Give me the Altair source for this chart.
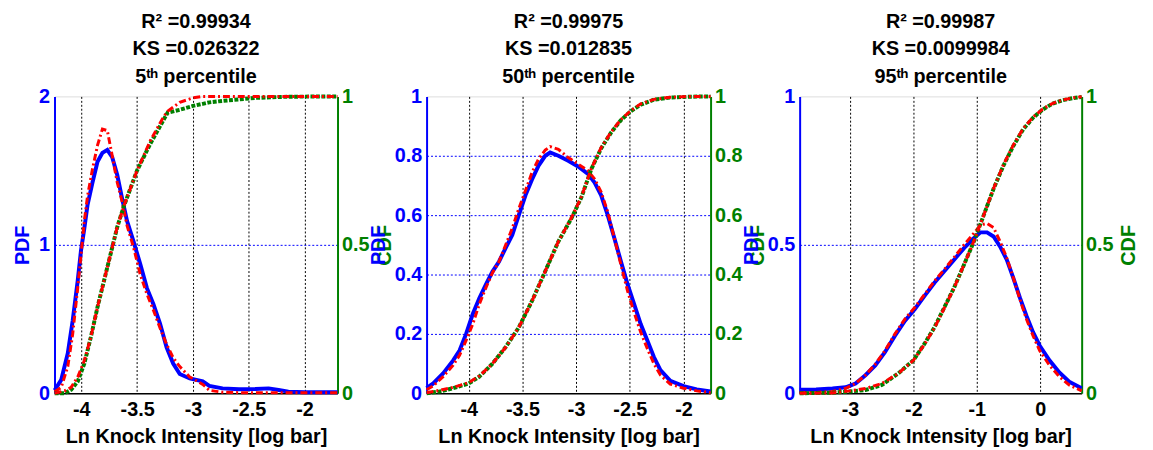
import altair as alt
import pandas as pd

FONT = "Liberation Sans"
BLUE = "#0000ff"
RED = "#ff0000"
GREEN = "#008000"

# ---------------- Panel 1: 5th percentile ----------------
p1_pdf_x = [-4.239, -4.180, -4.121, -4.077, -4.032, -4.003, -3.973, -3.944, -3.900, -3.855,
            -3.811, -3.767, -3.723, -3.678, -3.634, -3.590, -3.531, -3.472, -3.413, -3.354,
            -3.295, -3.236, -3.177, -3.118, -3.029, -2.912, -2.853, -2.735, -2.587, -2.440,
            -2.322, -2.233, -2.145, -1.997, -1.705]
p1_pdf_emp = [0.02, 0.09, 0.27, 0.49, 0.76, 0.96, 1.11, 1.27, 1.42, 1.56,
              1.62, 1.64, 1.59, 1.47, 1.31, 1.16, 1.02, 0.87, 0.71, 0.60,
              0.47, 0.31, 0.20, 0.13, 0.10, 0.08, 0.05, 0.033, 0.027, 0.029,
              0.033, 0.022, 0.011, 0.007, 0.007]
p1_pdf_fit = [0.01, 0.04, 0.18, 0.40, 0.71, 0.93, 1.16, 1.33, 1.51, 1.67,
              1.78, 1.77, 1.60, 1.42, 1.29, 1.13, 0.98, 0.80, 0.67, 0.56,
              0.44, 0.33, 0.24, 0.18, 0.11, 0.06, 0.02, 0.007, 0.004, 0.003,
              0.003, 0.003, 0.003, 0.003, 0.003]
p1_cdf_x = [-4.239, -4.150, -4.091, -4.032, -3.973, -3.914, -3.855, -3.796, -3.737, -3.678,
            -3.619, -3.560, -3.501, -3.442, -3.383, -3.324, -3.265, -3.227, -3.118, -3.000,
            -2.912, -2.853, -2.735, -2.587, -2.440, -2.145, -1.705]
p1_cdf_emp = [0.0, 0.0, 0.012, 0.04, 0.10, 0.19, 0.29, 0.38, 0.47, 0.56,
              0.63, 0.69, 0.75, 0.795, 0.84, 0.88, 0.92, 0.945, 0.955, 0.968,
              0.975, 0.98, 0.985, 0.99, 0.995, 0.999, 1.0]
p1_cdf_fit = [0.0, 0.008, 0.02, 0.055, 0.11, 0.19, 0.29, 0.38, 0.47, 0.56,
              0.63, 0.69, 0.75, 0.80, 0.85, 0.89, 0.93, 0.95, 0.98, 0.995,
              1.0, 1.0, 1.0, 1.0, 1.0, 1.0, 1.0]

# ---------------- Panel 2: 50th percentile ----------------
p2_pdf_x = [-4.393, -4.331, -4.239, -4.147, -4.086, -4.025, -3.963, -3.902, -3.840, -3.779,
            -3.718, -3.656, -3.595, -3.534, -3.472, -3.411, -3.350, -3.288, -3.242, -3.166,
            -3.074, -2.982, -2.890, -2.828, -2.767, -2.706, -2.644, -2.583, -2.521, -2.460,
            -2.399, -2.337, -2.276, -2.215, -2.123, -2.000, -1.877, -1.748]
p2_pdf_emp = [0.017, 0.033, 0.067, 0.11, 0.144, 0.20, 0.267, 0.32, 0.367, 0.41,
              0.444, 0.49, 0.533, 0.60, 0.667, 0.72, 0.767, 0.80, 0.811, 0.80,
              0.783, 0.764, 0.739, 0.71, 0.667, 0.60, 0.522, 0.444, 0.367, 0.30,
              0.233, 0.178, 0.122, 0.078, 0.042, 0.024, 0.013, 0.006]
p2_pdf_fit = [0.012, 0.025, 0.056, 0.094, 0.128, 0.178, 0.233, 0.30, 0.356, 0.406,
              0.444, 0.50, 0.556, 0.622, 0.683, 0.744, 0.789, 0.819, 0.831, 0.822,
              0.794, 0.772, 0.75, 0.722, 0.678, 0.611, 0.522, 0.433, 0.344, 0.272,
              0.206, 0.15, 0.10, 0.061, 0.031, 0.017, 0.008, 0.002]
p2_cdf_x = [-4.393, -4.270, -4.147, -4.000, -3.902, -3.779, -3.656, -3.534, -3.411, -3.288,
            -3.166, -3.043, -2.951, -2.859, -2.767, -2.675, -2.583, -2.491, -2.399, -2.276,
            -2.123, -1.939, -1.748]
p2_cdf_emp = [0.0, 0.006, 0.017, 0.033, 0.056, 0.10, 0.156, 0.222, 0.311, 0.411,
              0.511, 0.59, 0.66, 0.755, 0.825, 0.878, 0.92, 0.95, 0.972, 0.989,
              0.996, 0.999, 1.0]
p2_cdf_fit = [0.002, 0.01, 0.02, 0.036, 0.058, 0.10, 0.155, 0.222, 0.311, 0.411,
              0.511, 0.592, 0.662, 0.757, 0.828, 0.88, 0.922, 0.952, 0.975, 0.99,
              0.997, 1.0, 1.0]

# ---------------- Panel 3: 95th percentile ----------------
p3_pdf_x = [-3.793, -3.534, -3.275, -3.067, -2.912, -2.756, -2.601, -2.446, -2.290, -2.135,
            -1.979, -1.824, -1.668, -1.513, -1.358, -1.202, -1.047, -0.943, -0.839, -0.736,
            -0.632, -0.528, -0.425, -0.321, -0.218, -0.114, -0.010, 0.145, 0.301, 0.456,
            0.653]
p3_pdf_emp = [0.012, 0.013, 0.016, 0.02, 0.033, 0.061, 0.094, 0.139, 0.194, 0.244,
              0.283, 0.328, 0.372, 0.411, 0.45, 0.489, 0.522, 0.542, 0.542, 0.528,
              0.494, 0.45, 0.389, 0.322, 0.261, 0.206, 0.161, 0.111, 0.07, 0.039,
              0.017]
p3_pdf_fit = [0.002, 0.003, 0.006, 0.017, 0.033, 0.061, 0.098, 0.144, 0.20, 0.25,
              0.289, 0.333, 0.378, 0.417, 0.458, 0.50, 0.539, 0.567, 0.572, 0.558,
              0.511, 0.456, 0.389, 0.317, 0.25, 0.194, 0.144, 0.094, 0.056, 0.028,
              0.008]
p3_cdf_x = [-3.793, -3.275, -3.000, -2.756, -2.497, -2.238, -2.000, -1.824, -1.668, -1.513,
            -1.358, -1.202, -1.047, -0.891, -0.736, -0.580, -0.425, -0.269, -0.114, 0.041,
            0.197, 0.352, 0.508, 0.653]
p3_cdf_emp = [0.0, 0.002, 0.006, 0.011, 0.028, 0.067, 0.111, 0.167, 0.222, 0.289,
              0.356, 0.433, 0.511, 0.60, 0.689, 0.767, 0.833, 0.889, 0.928, 0.956,
              0.976, 0.987, 0.994, 0.998]
p3_cdf_fit = [0.0, 0.001, 0.008, 0.016, 0.033, 0.067, 0.111, 0.165, 0.22, 0.287,
              0.355, 0.433, 0.512, 0.60, 0.69, 0.77, 0.836, 0.892, 0.93, 0.958,
              0.977, 0.988, 0.995, 0.999]

titles = [
    ["R\u00b2 =0.99934", "KS =0.026322", "5\u1d57\u02b0 percentile"],
    ["R\u00b2 =0.99975", "KS =0.012835", "50\u1d57\u02b0 percentile"],
    ["R\u00b2 =0.99987", "KS =0.0099984", "95\u1d57\u02b0 percentile"],
]
x_domains = [[-4.24, -1.705], [-4.393, -1.748], [-3.793, 0.653]]
x_ticks = [[-4, -3.5, -3, -2.5, -2], [-4, -3.5, -3, -2.5, -2], [-3, -2, -1, 0]]
pdf_domains = [[0, 2], [0, 1], [0, 1]]
pdf_ticks = [[0, 1, 2], [0, 0.2, 0.4, 0.6, 0.8, 1], [0, 0.5, 1]]
cdf_ticks = [[0, 0.5, 1], [0, 0.2, 0.4, 0.6, 0.8, 1], [0, 0.5, 1]]

pdf_x = [p1_pdf_x, p2_pdf_x, p3_pdf_x]
pdf_emp = [p1_pdf_emp, p2_pdf_emp, p3_pdf_emp]
pdf_fit = [p1_pdf_fit, p2_pdf_fit, p3_pdf_fit]
cdf_x = [p1_cdf_x, p2_cdf_x, p3_cdf_x]
cdf_emp = [p1_cdf_emp, p2_cdf_emp, p3_cdf_emp]
cdf_fit = [p1_cdf_fit, p2_cdf_fit, p3_cdf_fit]

XLABEL = "datum.value < 0 ? '-' + format(-datum.value, '~g') : format(datum.value, '~g')"
WIDTHS = [286, 287, 285]
H = 300


def panel(i):
    pdf = pd.DataFrame({"x": pdf_x[i], "emp": pdf_emp[i], "fit": pdf_fit[i]})
    cdf = pd.DataFrame({"x": cdf_x[i], "emp": cdf_emp[i], "fit": cdf_fit[i]})
    xscale = alt.Scale(domain=x_domains[i], nice=False, zero=False)
    xaxis = alt.Axis(values=x_ticks[i], title="Ln Knock Intensity [log bar]",
                     grid=True, gridColor="black", gridDash=[2, 2], gridOpacity=1, gridWidth=1,
                     domainColor="black", domainWidth=1.5, ticks=False,
                     labelColor="black", labelFont=FONT, labelFontSize=20, labelFontWeight="bold",
                     labelExpr=XLABEL, labelPadding=6, labelFlush=False, labelOverlap=False,
                     titleColor="black", titleFont=FONT, titleFontSize=20, titleFontWeight="bold",
                     titlePadding=8)
    top = pdf_domains[i][1]
    pscale = alt.Scale(domain=pdf_domains[i], nice=False, zero=False)
    paxis = alt.Axis(values=pdf_ticks[i], title="PDF", orient="left", format="~g",
                     grid=True, gridColor=BLUE, gridDash=[2, 2], gridWidth=1,
                     gridOpacity={"condition": {"test": f"datum.value <= 0 || datum.value >= {top}",
                                                "value": 0}, "value": 1},
                     domainColor=BLUE, domainWidth=2, ticks=False,
                     labelColor=BLUE, labelFont=FONT, labelFontSize=20, labelFontWeight="bold",
                     labelPadding=5, labelFlush=False, labelOverlap=False,
                     titleColor=BLUE, titleFont=FONT, titleFontSize=20, titleFontWeight="bold",
                     titlePadding=6)
    cscale = alt.Scale(domain=[0, 1], nice=False, zero=False)
    caxis = alt.Axis(values=cdf_ticks[i], title="CDF", orient="right", format="~g",
                     grid=False, domainColor=GREEN, domainWidth=2, ticks=False,
                     labelColor=GREEN, labelFont=FONT, labelFontSize=20, labelFontWeight="bold",
                     labelPadding=4, labelFlush=False, labelOverlap=False,
                     titleColor=GREEN, titleFont=FONT, titleFontSize=20, titleFontWeight="bold",
                     titleAngle=270, titleBaseline="top", titlePadding=6)

    base_p = alt.Chart(pdf)
    blue = base_p.mark_line(color=BLUE, strokeWidth=4).encode(
        x=alt.X("x:Q", scale=xscale, axis=xaxis),
        y=alt.Y("emp:Q", scale=pscale, axis=paxis))
    redp = base_p.mark_line(color=RED, strokeWidth=3, strokeDash=[7, 3, 2, 3]).encode(
        x=alt.X("x:Q", scale=xscale, axis=xaxis),
        y=alt.Y("fit:Q", scale=pscale, axis=paxis))
    base_c = alt.Chart(cdf)
    green = base_c.mark_line(color=GREEN, strokeWidth=4, strokeDash=[4, 1.5]).encode(
        x=alt.X("x:Q", scale=xscale, axis=xaxis),
        y=alt.Y("emp:Q", scale=cscale, axis=caxis))
    redc = base_c.mark_line(color=RED, strokeWidth=3, strokeDash=[7, 3, 2, 3]).encode(
        x=alt.X("x:Q", scale=xscale, axis=xaxis),
        y=alt.Y("fit:Q", scale=cscale, axis=caxis))

    pdf_layer = alt.layer(blue, redp)
    cdf_layer = alt.layer(green, redc)
    return alt.layer(pdf_layer, cdf_layer).resolve_scale(y="independent").properties(
        width=WIDTHS[i], height=H,
        title=alt.TitleParams(text=titles[i], font=FONT, fontSize=20, fontWeight="bold",
                              color="black", anchor="middle", frame="group",
                              lineHeight=27.5, offset=0))


chart = alt.hconcat(panel(0), panel(1), panel(2), spacing=90, bounds="flush").configure_view(
    stroke="black", strokeWidth=1.5
).configure(padding={"left": 4, "top": 1, "right": 5, "bottom": 2}, background="white")

chart.save("out.html", embed_options={"renderer": "svg", "actions": False})
